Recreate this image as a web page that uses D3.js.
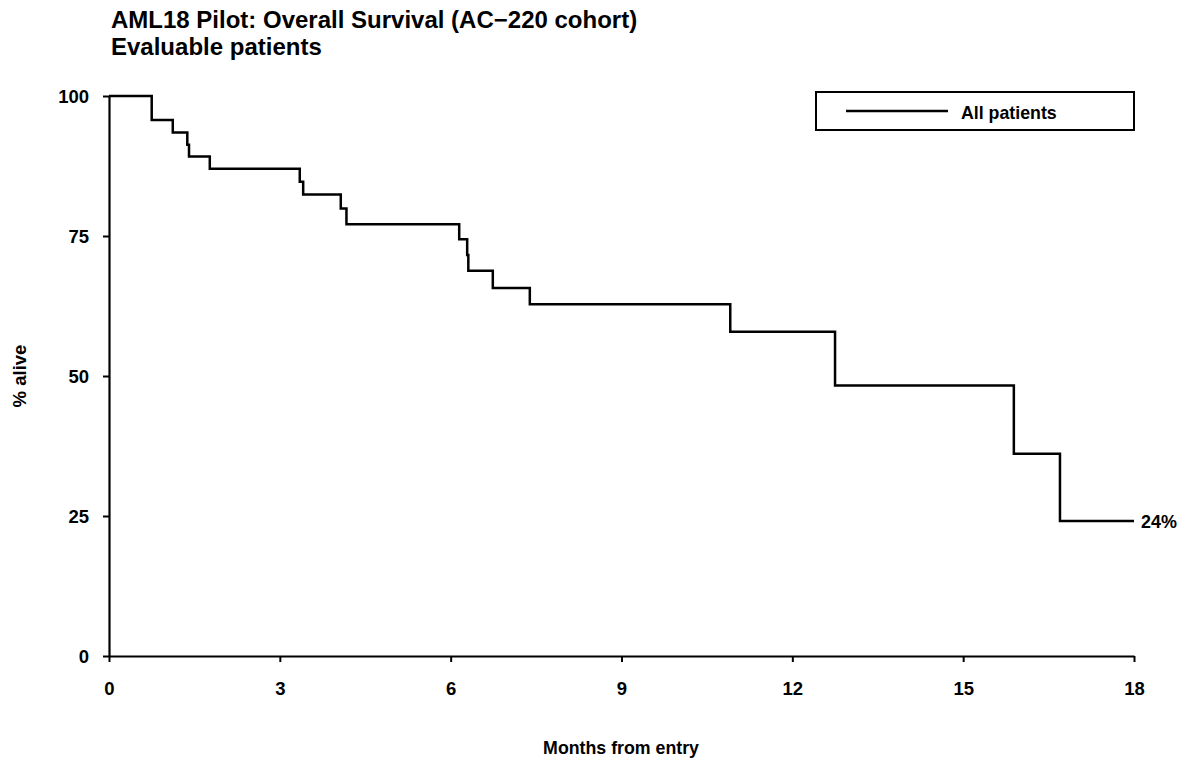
<!DOCTYPE html>
<html>
<head>
<meta charset="utf-8">
<script src="https://cdn.jsdelivr.net/npm/d3@7"></script>
<style>
  body { margin: 0; background: #fff; }
  svg text { font-family: "Liberation Sans", Arial, sans-serif; font-weight: bold; fill: #000; }
</style>
</head>
<body>
<svg id="chart" width="1181" height="762"></svg>
<script>
const titleLines = ['AML18 Pilot: Overall Survival (AC\u2212220 cohort)', 'Evaluable patients'];
const months = [0, 0.75, 1.12, 1.375, 1.405, 1.77, 3.35, 3.41, 4.07, 4.17, 6.15, 6.29, 6.31, 6.74, 7.39, 10.91, 12.75, 15.89, 16.70, 18];
const alive = [100, 95.7, 93.5, 91.3, 89.2, 87.0, 84.7, 82.4, 79.9, 77.1, 74.4, 71.6, 68.8, 65.7, 62.8, 57.9, 48.3, 36.1, 24.1, 24.1];
const xTicks = [0, 3, 6, 9, 12, 15, 18];
const yTicks = [0, 25, 50, 75, 100];
const seriesName = 'All patients';
const endLabel = '24%';

const svg = d3.select('#chart');

const x = d3.scaleLinear().domain([0, 18]).range([109, 1134]);
const y = d3.scaleLinear().domain([0, 100]).range([656, 96]);

// text squeezed a little horizontally, like the original narrow-ish font
const label = (px, py, str, size, sx, anchor) => svg.append('text')
    .attr('transform', `translate(${px},${py}) scale(${sx},1)`)
    .attr('text-anchor', anchor || 'start')
    .attr('font-size', size)
    .text(str);

// title
titleLines.forEach((t, i) => label(111, 27.5 + i * 27, t, 24, 1));

// axes
const xAxis = svg.append('g')
    .attr('transform', `translate(0,${y(0)})`)
    .call(d3.axisBottom(x).tickValues(xTicks).tickSize(6).tickPadding(20).tickSizeOuter(0));
const yAxis = svg.append('g')
    .attr('transform', `translate(${x(0)},0)`)
    .call(d3.axisLeft(y).tickValues(yTicks).tickSize(6).tickPadding(14).tickSizeOuter(0));

[xAxis, yAxis].forEach(g => {
    g.select('.domain').attr('stroke', '#000').attr('stroke-width', 2.2);
    g.selectAll('.tick line').attr('stroke', '#000').attr('stroke-width', 2);
    g.selectAll('.tick text').attr('font-size', 18.5).attr('font-family', null);
});
yAxis.selectAll('.tick text').attr('dy', '0.35em');

// axis titles
label(621, 754, 'Months from entry', 18.5, 0.96, 'middle');
svg.append('text')
    .attr('transform', 'translate(26,376) rotate(-90)')
    .attr('text-anchor', 'middle')
    .attr('font-size', 18.5)
    .text('% alive');

// survival curve
const pts = months.map((m, i) => [m, alive[i]]);
const line = d3.line()
    .x(d => x(d[0]))
    .y(d => y(d[1]))
    .curve(d3.curveStepAfter);
svg.append('path')
    .attr('d', line(pts))
    .attr('fill', 'none')
    .attr('stroke', '#000')
    .attr('stroke-width', 2.5);

label(x(18) + 7, y(alive[alive.length - 1]) + 6.5, endLabel, 18.5, 0.97);

// legend
const leg = svg.append('g').attr('transform', 'translate(816,92)');
leg.append('rect')
    .attr('width', 318)
    .attr('height', 38)
    .attr('fill', '#fff')
    .attr('stroke', '#000')
    .attr('stroke-width', 2);
leg.append('line')
    .attr('x1', 30).attr('x2', 132)
    .attr('y1', 19).attr('y2', 19)
    .attr('stroke', '#000')
    .attr('stroke-width', 2.5);
label(961, 118.5, seriesName, 18.5, 0.96);
</script>
</body>
</html>
